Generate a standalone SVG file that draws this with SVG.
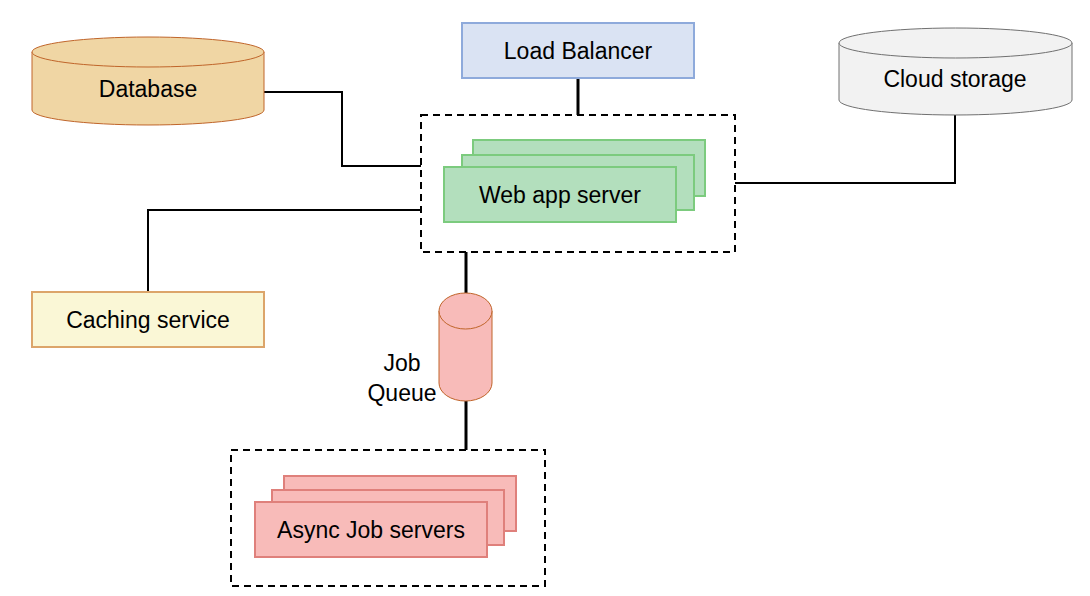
<svg xmlns="http://www.w3.org/2000/svg" width="1090" height="596" viewBox="0 0 1090 596">
<style>
text{font-family:"Liberation Sans",Arial,sans-serif;font-size:23px;fill:#000;text-anchor:middle;dominant-baseline:central}
.conn{fill:none;stroke:#000;stroke-width:2}
.thick{fill:none;stroke:#000;stroke-width:3}
.dash{fill:none;stroke:#000;stroke-width:2;stroke-dasharray:7,5}
.web{fill:#b3dfbd;stroke:#7ccb7e;stroke-width:2}
.job{fill:#f8bbb9;stroke:#df807b;stroke-width:2}
</style>
<rect width="1090" height="596" fill="#fff"/>
<g id="connectors">
<polyline class="conn" points="264,92 342,92 342,166 421,166"/>
<polyline class="conn" points="421,210 148,210 148,292"/>
<polyline class="conn" points="735,183 955,183 955,115"/>
<line class="thick" x1="578" y1="78" x2="578" y2="115"/>
<line class="thick" x1="466" y1="252" x2="466" y2="293"/>
<line class="thick" x1="466" y1="401" x2="466" y2="450"/>
</g>
<g id="database">
<path d="M32,52 L32,110 A116,15 0 0 0 264,110 L264,52" fill="#f0d6a4" stroke="#c0652a" stroke-width="1"/>
<ellipse cx="148" cy="52" rx="116" ry="15" fill="#f0d6a4" stroke="#c0652a" stroke-width="1"/>
<text x="148" y="89">Database</text>
</g>
<g id="load-balancer">
<rect x="462" y="23" width="232" height="55" fill="#dae3f3" stroke="#8eaadb" stroke-width="2"/>
<text x="578" y="51">Load Balancer</text>
</g>
<g id="cloud-storage">
<path d="M839,43 L839,100 A116.5,15 0 0 0 1072,100 L1072,43" fill="#f2f2f2" stroke="#707070" stroke-width="1"/>
<ellipse cx="955.5" cy="43" rx="116.5" ry="15" fill="#f2f2f2" stroke="#707070" stroke-width="1"/>
<text x="955" y="79">Cloud storage</text>
</g>
<g id="web-app-server">
<rect class="dash" x="421" y="115" width="314" height="137"/>
<rect class="web" x="473" y="140" width="232" height="56"/>
<rect class="web" x="462" y="155" width="232" height="55"/>
<rect class="web" x="444" y="167" width="232" height="55"/>
<text x="560" y="195">Web app server</text>
</g>
<g id="caching-service">
<rect x="32" y="292" width="232" height="55" fill="#faf7d6" stroke="#dca56a" stroke-width="2"/>
<text x="148" y="320">Caching service</text>
</g>
<g id="job-queue">
<path d="M439,311 L439,383 A26.5,18 0 0 0 492,383 L492,311" fill="#f8bbb9" stroke="#c0652a" stroke-width="1"/>
<ellipse cx="465.5" cy="311" rx="26.5" ry="18" fill="#f8bbb9" stroke="#c0652a" stroke-width="1"/>
<text x="402" y="363">Job</text>
<text x="402" y="393">Queue</text>
</g>
<g id="async-job-servers">
<rect class="dash" x="231" y="450" width="314" height="136"/>
<rect class="job" x="284" y="476" width="232" height="55"/>
<rect class="job" x="272" y="490" width="232" height="55"/>
<rect class="job" x="255" y="502" width="232" height="55"/>
<text x="371" y="530">Async Job servers</text>
</g>
</svg>
